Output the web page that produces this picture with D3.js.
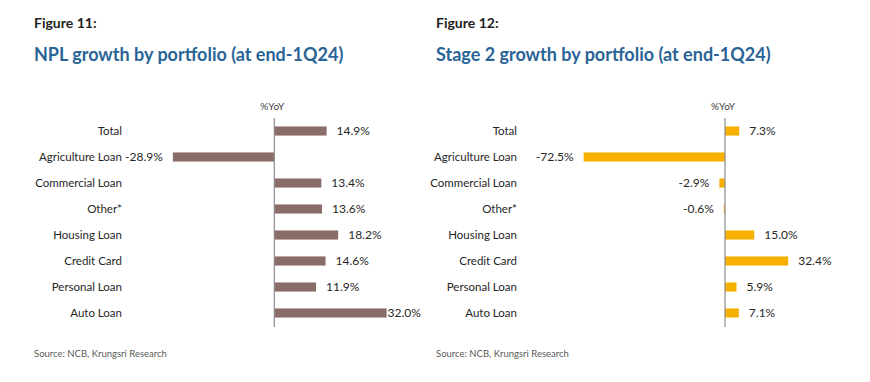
<!DOCTYPE html>
<html>
<head>
<meta charset="utf-8">
<script src="https://cdn.jsdelivr.net/npm/d3@7"></script>
<style>
  body { margin: 0; background: #fff; }
  svg { display: block; font-family: Lato, "Open Sans", sans-serif; }
</style>
</head>
<body>
<svg id="chart" width="870" height="382"></svg>
<script>
// categories shared by both panels (top to bottom)
const categories = ["Total", "Agriculture Loan", "Commercial Loan", "Other*",
    "Housing Loan", "Credit Card", "Personal Loan", "Auto Loan"];

// Figure 11: NPL growth, %YoY
const nplGrowth = [14.9, -28.9, 13.4, 13.6, 18.2, 14.6, 11.9, 32.0];

// Figure 12: Stage 2 growth, %YoY
const stage2Growth = [7.3, -72.5, -2.9, -0.6, 15.0, 32.4, 5.9, 7.1];

const svg = d3.select("#chart");

function drawPanel(cfg) {
    let g = svg.append("g");

    // headings
    g.append("text")
        .attr("x", cfg.left).attr("y", 28)
        .attr("font-size", 14).attr("font-weight", 700)
        .attr("fill", "#1e1e1e")
        .text(cfg.figure);
    g.append("text")
        .attr("x", cfg.left).attr("y", 61)
        .attr("font-size", 18).attr("font-weight", 700)
        .attr("fill", "#2a6496")
        .text(cfg.title);

    // scales
    let y = d3.scaleBand()
        .domain(categories)
        .range([118, 326])
        .paddingInner(0.65)
        .paddingOuter(0.325);
    let x = d3.scaleLinear().domain(cfg.domain).range(cfg.range);

    let rows = categories.map((c, i) => ({ cat: c, v: cfg.values[i] }));

    // bars
    g.selectAll("rect.bar")
        .data(rows)
        .join("rect")
        .attr("class", "bar")
        .attr("x", d => Math.min(x(0), x(d.v)))
        .attr("y", d => y(d.cat))
        .attr("width", d => Math.abs(x(d.v) - x(0)))
        .attr("height", y.bandwidth())
        .attr("fill", cfg.color);

    // vertical zero axis
    g.append("line")
        .attr("x1", x(0)).attr("x2", x(0))
        .attr("y1", 118).attr("y2", 327)
        .attr("stroke", "#8c8c8c").attr("stroke-width", 1.2);

    g.append("text")
        .attr("x", x(0) - 2).attr("y", 110)
        .attr("text-anchor", "middle")
        .attr("font-size", 10).attr("fill", "#404040")
        .text("%YoY");

    // category labels
    g.selectAll("text.cat")
        .data(rows)
        .join("text")
        .attr("class", "cat")
        .attr("x", cfg.labelX)
        .attr("y", d => y(d.cat) + y.bandwidth() / 2 + 4)
        .attr("text-anchor", "end")
        .attr("font-size", 11.5).attr("fill", "#262626")
        .text(d => d.cat);

    // value labels, pulled back inside the plot if they overflow (but never onto the bar)
    g.selectAll("text.val")
        .data(rows)
        .join("text")
        .attr("class", "val")
        .attr("y", d => y(d.cat) + y.bandwidth() / 2 + 4)
        .attr("font-size", 12).attr("fill", "#262626")
        .attr("text-anchor", d => d.v < 0 ? "end" : "start")
        .text(d => d.v.toFixed(1) + "%")
        .attr("x", function (d) {
            if (d.v < 0) return x(d.v) - 10;
            let w = this.getComputedTextLength();
            return Math.max(x(d.v) + 1, Math.min(x(d.v) + 10, cfg.plotRight - w));
        });

    g.append("text")
        .attr("x", cfg.left).attr("y", 357)
        .attr("font-size", 9.5).attr("fill", "#595959")
        .text("Source: NCB, Krungsri Research");
}

drawPanel({
    left: 34,
    figure: "Figure 11:",
    title: "NPL growth by portfolio (at end-1Q24)",
    values: nplGrowth,
    color: "#8a6d68",
    domain: [-40, 40],
    range: [133.9, 414.7],
    labelX: 122,
    plotRight: 419
});

drawPanel({
    left: 436,
    figure: "Figure 12:",
    title: "Stage 2 growth by portfolio (at end-1Q24)",
    values: stage2Growth,
    color: "#f5b000",
    domain: [-80, 40],
    range: [569, 803],
    labelX: 517,
    plotRight: 860
});
</script>
</body>
</html>
